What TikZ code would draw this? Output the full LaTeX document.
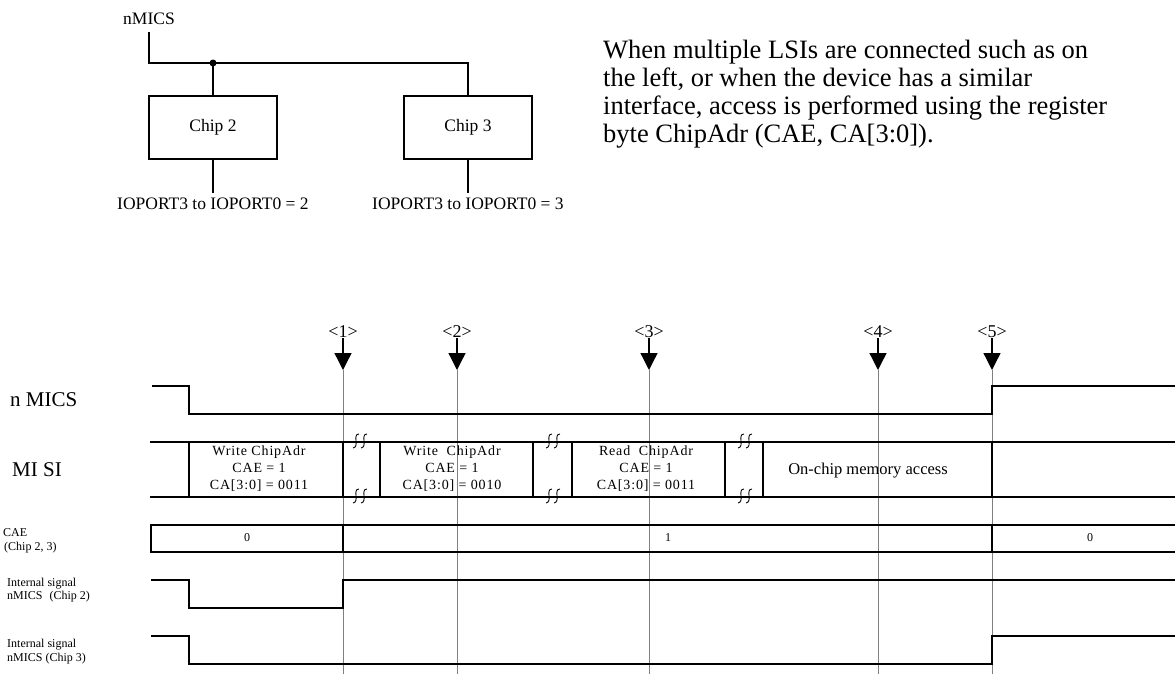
\documentclass[tikz,border=0pt]{standalone}
\usepackage{fontspec}
\setmainfont{Liberation Serif}
\newfontfamily\spacedfont[LetterSpace=6]{Liberation Serif}
\usetikzlibrary{arrows.meta}
\tikzset{
  sig/.style={black, line width=1.5pt},
  wire/.style={black, line width=1.2pt},
  guide/.style={black!50, line width=1pt},
  squiggle/.style={black, line width=0.9pt},
  markarrow/.style={black, line width=1.3pt, shorten <=1pt, -{Triangle[length=17pt,width=17pt]}},
  chipbox/.style={draw, line width=1.2pt, minimum width=128pt, minimum height=63pt, inner sep=0pt},
  mid/.style={font=\fontsize{17.5}{20}\selectfont},
  big/.style={font=\fontsize{21}{24}\selectfont, inner sep=0pt},
  small/.style={font=\fontsize{12}{14}\selectfont, inner sep=0pt},
  bustext/.style={font=\spacedfont\fontsize{14}{17}\selectfont, align=center, inner sep=0pt}
}
\begin{document}
\begin{tikzpicture}[x=1pt, y=-1pt]
    \useasboundingbox (0,0) rectangle (1175,675);
    \node[mid] (nmics) at (149,19) {nMICS};
    \coordinate (split) at (213,63);
    \node[chipbox, mid] (chip2) at (213,127.5) {Chip 2};
    \node[chipbox, mid] (chip3) at (468,127.5) {Chip 3};
    \node[mid, inner sep=0pt] (io2) at (213,204) {IOPORT3 to IOPORT0 = 2};
    \node[mid, inner sep=0pt] (io3) at (468,204) {IOPORT3 to IOPORT0 = 3};
    \draw[wire] ([yshift=-4pt]nmics.south) -- (nmics.south |- split) -- (split -| chip3.north) -- (chip3.north);
    \draw[wire] (split) -- (chip2.north);
    \fill[black] (split) circle (3.5pt);
    \draw[wire] (chip2.south) -- ([yshift=5pt]io2.north);
    \draw[wire] (chip3.south) -- ([yshift=5pt]io3.north);
    \node[anchor=base west, align=left, inner sep=0pt, font=\fontsize{26.5}{28}\selectfont] (note) at (603,142)
        {When multiple LSIs are connected such as on\\
         the left, or when the device has a similar\\
         interface, access is performed using the register\\
         byte ChipAdr (CAE, CA[3:0]).};
    \foreach \x/\n in {343/1, 457/2, 649/3, 878/4, 992/5} {
        \node[font=\fontsize{18}{20}\selectfont, inner sep=0pt, anchor=base] (mark\n) at (\x,337) {<\n>};
        \coordinate (tip\n) at (\x,370);
        \coordinate (end\n) at (\x,674);
        \draw[guide] (tip\n) -- (end\n);
        \draw[markarrow] (mark\n.south) -- (tip\n);
    }
    \node[big, anchor=base west] (lmics) at (10,406) {n MICS};
    \node[big, anchor=base west] (lmisi) at (12,476) {MI SI};
    \node[small, anchor=base west] (lcae) at (3,536) {CAE};
    \node[small, anchor=base west] (lcaechip) at (4,550) {(Chip 2, 3)};
    \node[small, anchor=base west] (lint2) at (7,586) {Internal signal};
    \node[small, anchor=base west] (lint2b) at (7,599) {nMICS\hspace{7pt}(Chip 2)};
    \node[small, anchor=base west] (lint3) at (7,647) {Internal signal};
    \node[small, anchor=base west] (lint3b) at (7,661) {nMICS (Chip 3)};
    \draw[sig] (152,386) -- (189,386) -- (189,414) -- (992,414) -- (992,386) -- (1175,386);
    \draw[sig] (150,442) -- (1175,442);
    \draw[sig] (150,497) -- (1175,497);
    \foreach \x in {189,343,380,533,572,725,763,992}
        \draw[sig] (\x,442) -- (\x,497);
    \foreach \x in {356,364,549,557,741,749}
        \foreach \y in {442,497}
            \draw[squiggle] (\x+3,\y-8) .. controls (\x-4,\y-8) and (\x+4,\y+5) .. (\x-3,\y+6);
    \node[bustext] (bus1) at (259,469) {Write ChipAdr\\CAE = 1\\CA[3:0] = 0011};
    \node[bustext] (bus2) at (452,469) {Write\ \ ChipAdr\\CAE = 1\\CA[3:0] = 0010};
    \node[bustext] (bus3) at (646,469) {Read\ \ ChipAdr\\CAE = 1\\CA[3:0] = 0011};
    \node[font=\fontsize{16.5}{19}\selectfont, inner sep=0pt] (bus4) at (868,471) {On-chip memory access};
    \draw[sig] (1175,525) -- (151,525) -- (151,552) -- (1175,552);
    \draw[sig] (343,525) -- (343,552);
    \draw[sig] (992,525) -- (992,552);
    \node[small] (cae0) at (247,538) {0};
    \node[small] (cae1) at (668,538) {1};
    \node[small] (cae2) at (1090,538) {0};
    \draw[sig] (151,580) -- (189,580) -- (189,608) -- (343,608) -- (343,580) -- (1175,580);
    \draw[sig] (151,636) -- (189,636) -- (189,664) -- (992,664) -- (992,636) -- (1175,636);
\end{tikzpicture}
\end{document}
